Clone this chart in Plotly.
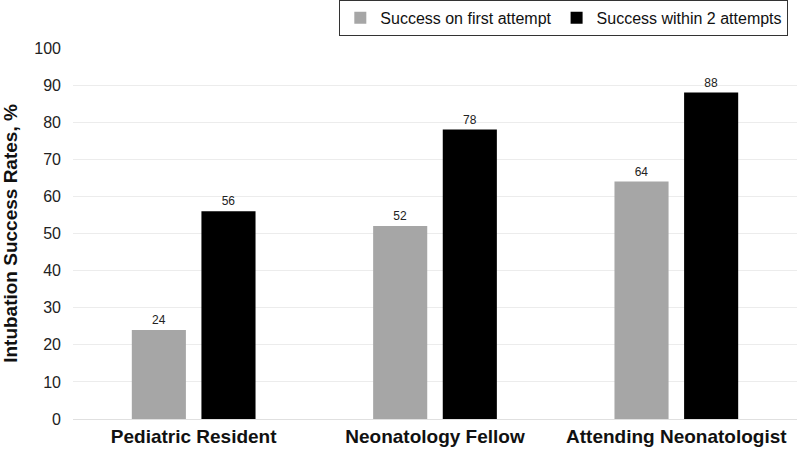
import plotly.graph_objects as go

categories = ["Pediatric Resident", "Neonatology Fellow", "Attending Neonatologist"]
first_attempt = [24, 52, 64]
within_two = [56, 78, 88]
y_ticks = [0, 10, 20, 30, 40, 50, 60, 70, 80, 90, 100]

fig = go.Figure()
fig.add_trace(go.Bar(
    x=categories, y=first_attempt, name="Success on first attempt",
    marker=dict(color="#a6a6a6", line=dict(width=0)),
    text=first_attempt, textposition="outside",
    textfont=dict(size=12, color="#222"), cliponaxis=False,
))
fig.add_trace(go.Bar(
    x=categories, y=within_two, name="Success within 2 attempts",
    marker=dict(color="#000000", line=dict(width=0)),
    text=within_two, textposition="outside",
    textfont=dict(size=12, color="#222"), cliponaxis=False,
))

fig.update_layout(
    width=797, height=452,
    margin=dict(l=73, r=0, t=48, b=33, autoexpand=False),
    paper_bgcolor="white", plot_bgcolor="white",
    font=dict(family="Liberation Sans, Arial, sans-serif", color="#222"),
    barmode="group", bargap=0.423, bargroupgap=0.223,
    showlegend=True,
    legend=dict(
        orientation="h", x=0.988, xanchor="right", y=1.13, yanchor="top",
        bordercolor="#333", borderwidth=1, bgcolor="white",
        font=dict(size=16, color="#111"), traceorder="normal",
        itemwidth=30, tracegroupgap=0,
    ),
    xaxis=dict(
        showgrid=False, showline=True, linecolor="#e0e0e0", linewidth=1,
        tickfont=dict(size=19, color="#111", family="Liberation Sans, Arial, sans-serif"),
        ticks="", automargin=False,
    ),
    yaxis=dict(
        range=[0, 100], tickvals=y_ticks, showgrid=True, gridcolor="#ececec",
        zeroline=False, showline=False, ticks="", automargin=False,
        ticklabelstandoff=11,
        tickfont=dict(size=16, color="#222"),
        title=dict(text="<b>Intubation Success Rates, %</b>", font=dict(size=19, color="#111"), standoff=11),
    ),
)
fig.update_xaxes(tickprefix="<b>", ticksuffix="</b>")

fig.write_html(
    "out.html",
    config={"displayModeBar": False},
    post_script="document.body.style.margin='0';document.body.style.padding='0';",
)
